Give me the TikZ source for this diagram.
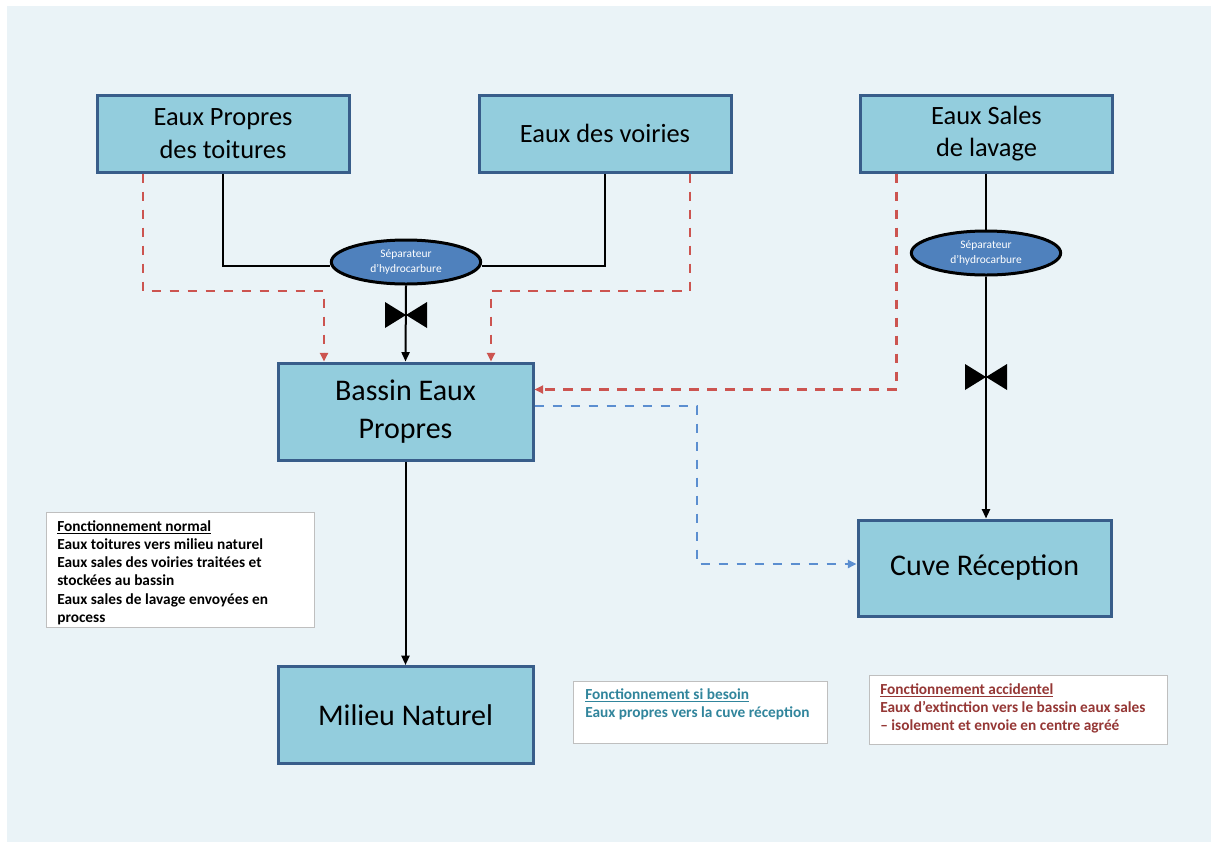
\documentclass[tikz,border=0pt]{standalone}
\usepackage{fontspec}
\setmainfont{Carlito}
\usetikzlibrary{shapes.geometric,arrows.meta}
\definecolor{bgc}{HTML}{EAF3F7}
\definecolor{boxfill}{HTML}{93CDDD}
\definecolor{boxline}{HTML}{385D8A}
\definecolor{sepfill}{HTML}{4F81BD}
\definecolor{reddash}{HTML}{CC5450}
\definecolor{bluedash}{HTML}{5B8ED0}
\definecolor{tealtxt}{HTML}{31859C}
\definecolor{redtxt}{HTML}{953735}
\definecolor{leggrey}{HTML}{BFBFBF}
\tikzset{
  box/.style={draw=boxline, fill=boxfill, line width=2.25pt, align=center, inner sep=0pt},
  topbox/.style={box, minimum width=189pt, minimum height=57.75pt, font=\fontsize{19.8}{24.5}\selectfont},
  bigbox/.style={box, minimum width=191.25pt, minimum height=72.75pt, font=\fontsize{22.5}{28.5}\selectfont},
  sepnode/.style={ellipse, draw=black, fill=sepfill, line width=2.25pt, minimum width=112pt, minimum height=33pt, inner sep=0pt, align=center, text=white, font=\fontsize{8.6}{11.2}\selectfont},
  pipe/.style={draw=black, line width=1.5pt},
  pipearrow/.style={pipe, -{Triangle[length=7pt,width=6pt]}},
  reddashed/.style={draw=reddash, line width=1.9pt, dash pattern=on 7pt off 6.5pt, -{Triangle[length=6.5pt,width=6pt]}},
  bluedashed/.style={draw=bluedash, line width=1.9pt, dash pattern=on 7pt off 6.5pt, -{Triangle[length=6.5pt,width=6pt]}},
  legbox/.style={draw=leggrey, fill=white, line width=0.75pt, anchor=north west, inner sep=0pt},
  legtext/.style={anchor=north west, align=left, inner sep=0pt, font=\bfseries\fontsize{11.5}{13.7}\selectfont},
}
\begin{document}
\begin{tikzpicture}[x=0.75pt,y=-0.75pt]
\useasboundingbox (0,0) rectangle (1212,843);
\fill[bgc] (7,6) rectangle (1211,842);

% top boxes
\node[topbox] (toit) at (223,133.5) {\raisebox{-1pt}{Eaux Propres}\\\raisebox{-1pt}{des toitures}};
\node[topbox] (voir) at (605,133.5) {Eaux des voiries};
\node[topbox] (lav) at (986.5,133.5) {\raisebox{-2pt}{Eaux Sales}\\\raisebox{-2pt}{de lavage}};

% separators
\node[sepnode] (sep1) at (406,262) {Séparateur\\d’hydrocarbure};
\node[sepnode] (sep2) at (986,253) {Séparateur\\d’hydrocarbure};

% main boxes
\node[bigbox] (bassin) at (405.5,411.5) {\raisebox{-1.5pt}{Bassin Eaux}\\\raisebox{-1.5pt}{Propres}};
\node[bigbox] (milieu) at (405.5,715) {Milieu Naturel};
\node[box, minimum width=189.75pt, minimum height=72pt, font=\fontsize{22.5}{28.5}\selectfont] (cuve) at (984.5,568) {\raisebox{-2pt}{Cuve Réception}};

% black pipes
\draw[pipe] (toit.south) |- ([yshift=-3pt]sep1.west);
\draw[pipe] (voir.south) |- ([yshift=-3pt]sep1.east);
\draw[pipearrow] (sep1.south) -- (bassin.north);
\draw[pipe] (sep2.north |- lav.south) -- (sep2.north);
\draw[pipearrow] (sep2.south) -- (sep2.south |- cuve.north);
\draw[pipearrow] (bassin.south) -- (milieu.north);

% valves
\coordinate (v1) at (406,315);
\coordinate (v2) at (986,377);
\foreach \v in {v1,v2}{
  \fill[black] (\v) -- ++(-21,-13) -- ++(0,26) -- cycle;
  \fill[black] (\v) -- ++(21,-13) -- ++(0,26) -- cycle;
}

% red dashed
\coordinate (r1) at (324,291);
\coordinate (r2) at (491,291);
\draw[reddashed] ([xshift=-60pt]toit.south) |- (r1) -- (r1 |- bassin.north);
\draw[reddashed] ([xshift=63.75pt]voir.south) |- (r2) -- (r2 |- bassin.north);
\draw[reddashed] ([xshift=-67.5pt]lav.south) |- ([yshift=16.5pt]bassin.east);

% blue dashed
\coordinate (b1) at (697,564);
\draw[bluedashed] ([yshift=4pt]bassin.east) -| (b1) -- (b1 -| cuve.west);

% legends
\node[legbox, minimum width=201pt, minimum height=86.25pt] (leg1) at (46,512) {};
\node[legtext] (leg1t) at (57,520) {\underline{Fonctionnement normal}\\Eaux toitures vers milieu naturel\\Eaux sales des voiries traitées et\\stockées au bassin\\Eaux sales de lavage envoyées en\\process};

\node[legbox, minimum width=190.5pt, minimum height=46.5pt] (leg2) at (573,681) {};
\node[legtext, text=tealtxt] (leg2t) at (585,688) {\underline{Fonctionnement si besoin}\\Eaux propres vers la cuve réception};

\node[legbox, minimum width=223.5pt, minimum height=51.75pt] (leg3) at (869,675) {};
\node[legtext, text=redtxt] (leg3t) at (880,683) {\underline{Fonctionnement accidentel}\\Eaux d'extinction vers le bassin eaux sales\\– isolement et envoie en centre agréé};
\end{tikzpicture}
\end{document}
